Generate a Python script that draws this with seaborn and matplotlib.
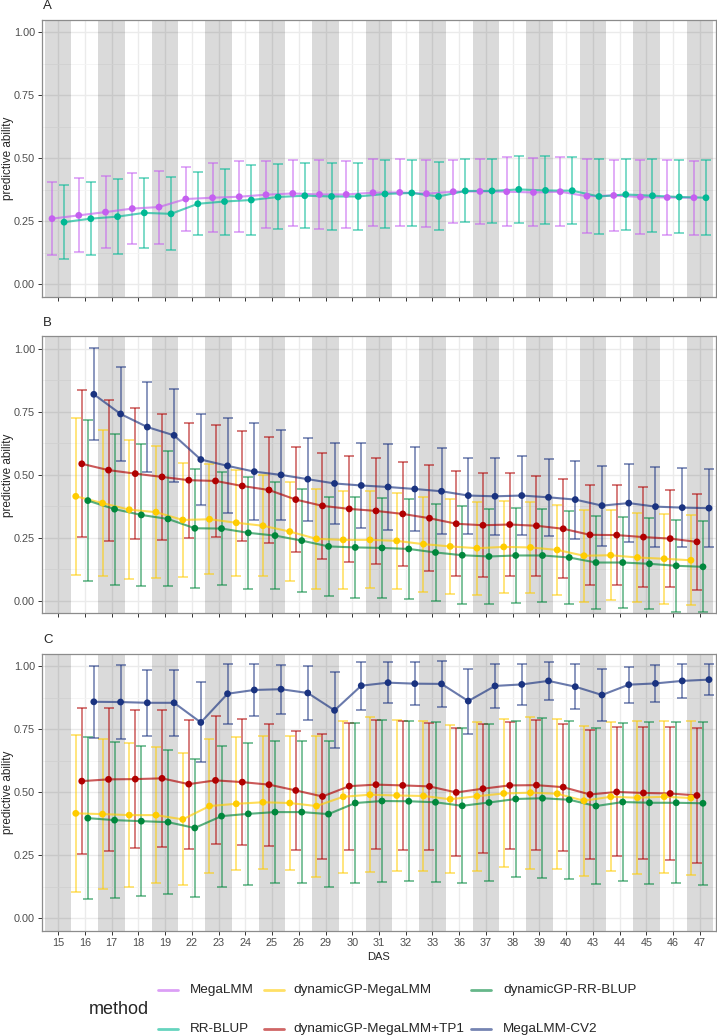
import matplotlib
matplotlib.use('Agg')
import matplotlib.pyplot as plt
from matplotlib.lines import Line2D
from matplotlib.ticker import MultipleLocator
import pandas as pd
import seaborn as sns

das = [15, 16, 17, 18, 19, 22, 23, 24, 25, 26, 29, 30, 31, 32, 33,
       36, 37, 38, 39, 40, 43, 44, 45, 46, 47]

# panel A (all DAS)
megalmm_a = [0.260, 0.273, 0.286, 0.300, 0.306, 0.338, 0.343, 0.347, 0.355, 0.360, 0.356, 0.356,
             0.363, 0.364, 0.359, 0.367, 0.368, 0.367, 0.364, 0.367, 0.349, 0.352, 0.346, 0.344, 0.343]
megalmm_a_sd = [0.145, 0.147, 0.143, 0.140, 0.145, 0.128, 0.137, 0.142, 0.132, 0.131, 0.137, 0.134,
                0.132, 0.134, 0.132, 0.126, 0.130, 0.136, 0.135, 0.137, 0.146, 0.142, 0.147, 0.148, 0.146]
rrblup_a = [0.246, 0.260, 0.268, 0.283, 0.279, 0.319, 0.328, 0.334, 0.346, 0.351, 0.348, 0.348,
            0.358, 0.362, 0.348, 0.370, 0.370, 0.376, 0.372, 0.371, 0.348, 0.356, 0.351, 0.346, 0.343]
rrblup_a_sd = [0.146, 0.145, 0.148, 0.138, 0.145, 0.125, 0.131, 0.140, 0.129, 0.128, 0.132, 0.134,
               0.134, 0.130, 0.135, 0.125, 0.128, 0.132, 0.135, 0.133, 0.148, 0.142, 0.144, 0.145, 0.148]

# panel B (DAS 16 onwards)
dgp_mega_b = [0.415, 0.388, 0.362, 0.352, 0.321, 0.324, 0.310, 0.298, 0.275, 0.246, 0.242, 0.242,
              0.238, 0.225, 0.216, 0.209, 0.214, 0.212, 0.202, 0.179, 0.181, 0.172, 0.167, 0.161]
dgp_mega_b_sd = [0.312, 0.289, 0.275, 0.261, 0.226, 0.218, 0.210, 0.200, 0.195, 0.198, 0.196, 0.193,
                 0.190, 0.189, 0.190, 0.184, 0.182, 0.180, 0.179, 0.183, 0.178, 0.177, 0.179, 0.178]
dgp_tp1_b = [0.544, 0.519, 0.505, 0.492, 0.479, 0.476, 0.456, 0.440, 0.402, 0.377, 0.365, 0.357,
             0.345, 0.328, 0.306, 0.300, 0.303, 0.298, 0.286, 0.262, 0.261, 0.253, 0.247, 0.234]
dgp_tp1_b_sd = [0.292, 0.280, 0.260, 0.251, 0.228, 0.223, 0.220, 0.212, 0.207, 0.210, 0.209, 0.209,
                0.208, 0.210, 0.208, 0.206, 0.204, 0.199, 0.196, 0.198, 0.198, 0.198, 0.194, 0.190]
dgp_rr_b = [0.398, 0.364, 0.341, 0.325, 0.288, 0.287, 0.270, 0.259, 0.239, 0.216, 0.212, 0.210,
            0.206, 0.192, 0.181, 0.176, 0.180, 0.180, 0.172, 0.152, 0.152, 0.147, 0.139, 0.135]
dgp_rr_b_sd = [0.321, 0.300, 0.282, 0.268, 0.236, 0.226, 0.222, 0.211, 0.205, 0.198, 0.200, 0.197,
               0.197, 0.194, 0.194, 0.188, 0.188, 0.186, 0.185, 0.186, 0.179, 0.181, 0.183, 0.180]
cv2_b = [0.820, 0.742, 0.690, 0.657, 0.561, 0.536, 0.513, 0.500, 0.483, 0.466, 0.458, 0.452,
         0.444, 0.435, 0.418, 0.415, 0.418, 0.411, 0.402, 0.378, 0.388, 0.374, 0.370, 0.368]
cv2_b_sd = [0.183, 0.185, 0.179, 0.185, 0.179, 0.188, 0.192, 0.179, 0.165, 0.161, 0.168, 0.169,
            0.167, 0.170, 0.151, 0.154, 0.157, 0.154, 0.155, 0.159, 0.155, 0.159, 0.157, 0.155]

# panel C (DAS 16 onwards)
dgp_mega_c = [0.416, 0.413, 0.409, 0.409, 0.392, 0.445, 0.454, 0.460, 0.457, 0.445, 0.482, 0.490,
              0.487, 0.485, 0.472, 0.484, 0.495, 0.498, 0.494, 0.466, 0.482, 0.478, 0.482, 0.477]
dgp_mega_c_sd = [0.312, 0.299, 0.287, 0.270, 0.262, 0.265, 0.264, 0.265, 0.266, 0.280, 0.302, 0.308,
                 0.299, 0.299, 0.293, 0.296, 0.294, 0.302, 0.297, 0.297, 0.295, 0.304, 0.302, 0.307]
dgp_tp1_c = [0.544, 0.551, 0.552, 0.555, 0.532, 0.547, 0.540, 0.530, 0.507, 0.483, 0.524, 0.530,
             0.527, 0.523, 0.499, 0.514, 0.527, 0.528, 0.520, 0.491, 0.501, 0.497, 0.495, 0.487]
dgp_tp1_c_sd = [0.291, 0.283, 0.273, 0.272, 0.256, 0.254, 0.250, 0.242, 0.238, 0.247, 0.252, 0.256,
                0.255, 0.253, 0.254, 0.255, 0.252, 0.257, 0.252, 0.256, 0.256, 0.263, 0.264, 0.267]
dgp_rr_c = [0.397, 0.389, 0.385, 0.381, 0.358, 0.405, 0.414, 0.421, 0.421, 0.413, 0.457, 0.465,
            0.464, 0.460, 0.446, 0.459, 0.473, 0.476, 0.470, 0.445, 0.461, 0.458, 0.458, 0.456]
dgp_rr_c_sd = [0.322, 0.311, 0.299, 0.285, 0.275, 0.280, 0.281, 0.281, 0.282, 0.291, 0.317, 0.321,
               0.317, 0.317, 0.308, 0.311, 0.311, 0.318, 0.314, 0.311, 0.312, 0.321, 0.319, 0.324]
cv2_c = [0.859, 0.858, 0.855, 0.855, 0.777, 0.891, 0.906, 0.909, 0.894, 0.825, 0.923, 0.935,
         0.931, 0.930, 0.862, 0.922, 0.928, 0.942, 0.919, 0.886, 0.927, 0.932, 0.942, 0.947]
cv2_c_sd = [0.144, 0.147, 0.130, 0.132, 0.159, 0.119, 0.104, 0.097, 0.109, 0.151, 0.095, 0.082,
            0.085, 0.091, 0.129, 0.087, 0.080, 0.077, 0.089, 0.103, 0.072, 0.075, 0.067, 0.062]

methods = ['MegaLMM', 'RR-BLUP', 'dynamicGP-MegaLMM', 'dynamicGP-MegaLMM+TP1',
           'dynamicGP-RR-BLUP', 'MegaLMM-CV2']
palette = {'MegaLMM': '#C45FF0', 'RR-BLUP': '#00B894', 'dynamicGP-MegaLMM': '#FFCC00',
           'dynamicGP-MegaLMM+TP1': '#B00000', 'dynamicGP-RR-BLUP': '#00873C',
           'MegaLMM-CV2': '#1A3380'}


def make_df(series, start):
    rows = []
    n = len(series)
    for j, (m, vals, sds) in enumerate(series):
        off = -0.45 + 0.9 / n * (j + 0.5)   # dodge width 0.9
        for i, (v, s) in enumerate(zip(vals, sds)):
            rows.append({'method': m, 'das': das[start + i], 'x': start + i + off,
                         'mean': v, 'sd': s})
    return pd.DataFrame(rows)


panels = [
    ('A', make_df([('MegaLMM', megalmm_a, megalmm_a_sd),
                   ('RR-BLUP', rrblup_a, rrblup_a_sd)], 0)),
    ('B', make_df([('dynamicGP-MegaLMM', dgp_mega_b, dgp_mega_b_sd),
                   ('dynamicGP-MegaLMM+TP1', dgp_tp1_b, dgp_tp1_b_sd),
                   ('dynamicGP-RR-BLUP', dgp_rr_b, dgp_rr_b_sd),
                   ('MegaLMM-CV2', cv2_b, cv2_b_sd)], 1)),
    ('C', make_df([('dynamicGP-MegaLMM', dgp_mega_c, dgp_mega_c_sd),
                   ('dynamicGP-MegaLMM+TP1', dgp_tp1_c, dgp_tp1_c_sd),
                   ('dynamicGP-RR-BLUP', dgp_rr_c, dgp_rr_c_sd),
                   ('MegaLMM-CV2', cv2_c, cv2_c_sd)], 1)),
]

sns.set_theme(style='white')
plt.rcParams['font.family'] = ['Liberation Sans', 'DejaVu Sans']

W, H = 717, 1036
fig = plt.figure(figsize=(W / 100, H / 100), dpi=100)

panel_tops = [19.7, 336.4, 653.7]
ph = 277.0
for (label, df), top in zip(panels, panel_tops):
    ax = fig.add_axes([42 / W, 1 - (top + ph) / H, 674 / W, ph / H])
    # shaded alternate days
    for k in range(0, len(das), 2):
        ax.axvspan(k - 0.5, k + 0.5, color='black', alpha=0.145, lw=0, zorder=1)
    for m in df['method'].unique():
        sub = df[df['method'] == m]
        ax.errorbar(sub['x'], sub['mean'], yerr=sub['sd'], fmt='none',
                    ecolor=palette[m], alpha=0.55, elinewidth=1.3, capsize=3.3,
                    capthick=1.3, zorder=2)
    sns.lineplot(data=df, x='x', y='mean', hue='method', palette=palette,
                 alpha=0.65, lw=1.5, legend=False, ax=ax, zorder=3, estimator=None)
    sns.scatterplot(data=df, x='x', y='mean', hue='method', palette=palette,
                    s=24, linewidth=0, legend=False, ax=ax, zorder=4)
    ax.set_xlim(-0.6, len(das) - 0.4)
    ax.set_ylim(-0.05, 1.05)
    ax.set_xticks(range(len(das)))
    ax.set_yticks([0, 0.25, 0.5, 0.75, 1.0])
    ax.set_yticklabels(['0.00', '0.25', '0.50', '0.75', '1.00'])
    ax.yaxis.set_minor_locator(MultipleLocator(0.125))
    ax.grid(which='major', color='#EBEBEB', lw=1.0)
    ax.grid(which='minor', axis='y', color='#F4F4F4', lw=0.6)
    ax.set_axisbelow(True)
    ax.tick_params(axis='both', which='major', length=3, width=0.7, color='#333333',
                   labelsize=7.8, labelcolor='#4D4D4D', pad=2, bottom=True, left=True)
    ax.tick_params(which='minor', length=0)
    for sp in ax.spines.values():
        sp.set_color('#8C8C8C')
        sp.set_linewidth(0.9)
    ax.set_ylabel('')
    fig.text(8 / W, 1 - (top + ph / 2) / H, 'predictive ability', fontsize=8.5,
             rotation=90, ha='center', va='center')
    if label == 'C':
        ax.set_xticklabels([str(d) for d in das])
        ax.set_xlabel('DAS', fontsize=8, labelpad=3)
    else:
        ax.set_xticklabels([])
        ax.set_xlabel('')
    fig.text(43 / W, 1 - (top - 13.5) / H, label, fontsize=9.5, ha='left', va='center')

# legend (two rows, three columns, title on the left)
key_x = [158, 158, 264, 264, 471, 471]
text_x = [190, 190, 293, 293, 503, 503]
row_y = [990, 1029, 990, 1029, 990, 1029]
for m, kx, tx, ry in zip(methods, key_x, text_x, row_y):
    fig.add_artist(Line2D([kx / W, (kx + 20) / W], [1 - ry / H, 1 - ry / H],
                          color=palette[m], alpha=0.6, lw=2))
    fig.text(tx / W, 1 - ry / H, m, fontsize=9.7, ha='left', va='center')
fig.text(89 / W, 1 - 1010 / H, 'method', fontsize=13, ha='left', va='center')

fig.savefig('out.png', dpi=100)
